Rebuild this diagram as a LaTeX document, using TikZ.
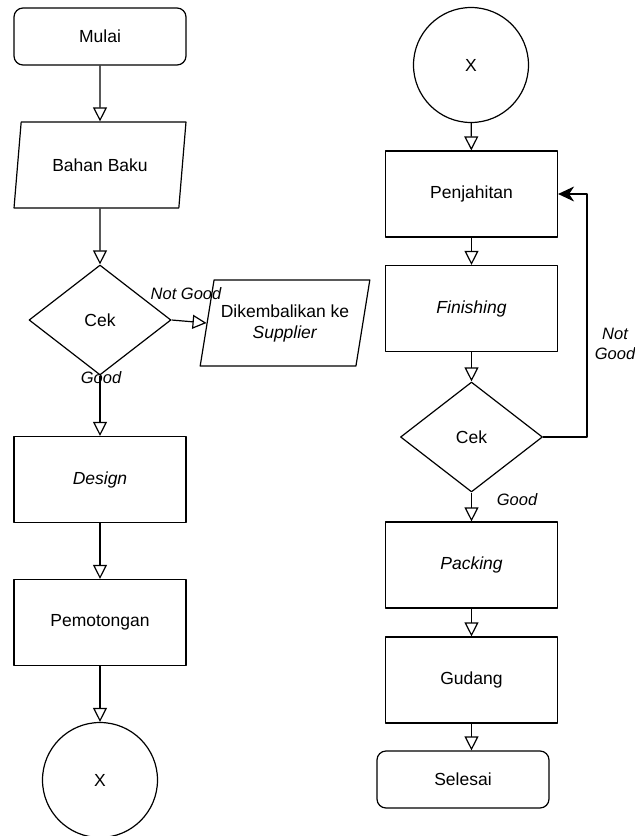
\documentclass[tikz,border=0pt]{standalone}
\usepackage{fontspec}
\setmainfont{Liberation Sans}
\usetikzlibrary{shapes.geometric,arrows.meta}
\begin{document}
\begin{tikzpicture}[x=1pt,y=-1pt,line join=round,
	every node/.style={font=\fontsize{17.5}{21}\selectfont},
	proses/.style={draw,line width=1.2pt,minimum width=172pt,minimum height=86pt,inner sep=0pt},
	terminal/.style={draw,line width=1.2pt,rounded corners=9pt,minimum width=172pt,minimum height=57pt},
	data/.style={draw,line width=1.2pt,trapezium,trapezium stretches=true,trapezium left angle=71.4,trapezium right angle=108.6,minimum width=172pt,minimum height=86pt,inner sep=0pt},
	keputusan/.style={draw,line width=1.2pt,diamond,aspect=1.3,minimum width=142pt,minimum height=110pt,inner sep=0pt},
	konektor/.style={draw,line width=1.2pt,circle,minimum size=115pt,inner sep=0pt},
	label/.style={font=\fontsize{16.5}{20}\selectfont\itshape},
	panah/.style={line width=1.2pt,-{Triangle[open,length=14pt,width=14pt]}},
	balik/.style={line width=1.2pt,-{Stealth[length=16pt,width=15pt,inset=5pt]}}]
		\useasboundingbox (0,0) rectangle (635,836);
		\node[terminal] (mulai) at (100,36.5) {Mulai};
		\node[data] (bahan) at (100,165) {Bahan Baku};
		\node[keputusan] (cek1) at (100,320) {Cek};
		\node[data,minimum width=170pt,align=center] (kembali) at (285,323) {Dikembalikan ke\\\textit{Supplier}};
		\node[proses] (design) at (100,479.5) {\textit{Design}};
		\node[proses] (potong) at (100,622.5) {Pemotongan};
		\node[konektor] (x1) at (100,780) {X};
		\node[konektor] (x2) at (471,65) {X};
		\node[proses] (jahit) at (471.5,194) {Penjahitan};
		\node[proses] (finish) at (471.5,308.5) {\textit{Finishing}};
		\node[keputusan] (cek2) at (471.5,437) {Cek};
		\node[proses] (packing) at (471.5,565) {\textit{Packing}};
		\node[proses] (gudang) at (471.5,680) {Gudang};
		\node[terminal] (selesai) at (463,779.5) {Selesai};
		\coordinate (sudut1) at (587,437);
		\coordinate (sudut2) at (587,194);
		\draw[panah] (mulai) -- (bahan);
		\draw[panah] (bahan) -- (cek1);
		\draw[panah] (cek1.east) -- (kembali.west);
		\draw[panah] (cek1) -- (design);
		\draw[panah] (design) -- (potong);
		\draw[panah] (potong) -- (x1);
		\draw[panah] (x2) -- (jahit);
		\draw[panah] (jahit) -- (finish);
		\draw[panah] (finish) -- (cek2);
		\draw[panah] (cek2) -- (packing);
		\draw[panah] (packing) -- (gudang);
		\draw[panah] (gudang.south) -- (gudang.south |- selesai.north);
		\draw[balik] (cek2.east) -- (sudut1) -- (sudut2) -- (jahit.east);
		\node[label] at (186,294) {Not Good};
		\node[label] at (101,378) {Good};
		\node[label,align=center] at (615,344) {Not\\Good};
		\node[label] at (517,500) {Good};
\end{tikzpicture}
\end{document}
